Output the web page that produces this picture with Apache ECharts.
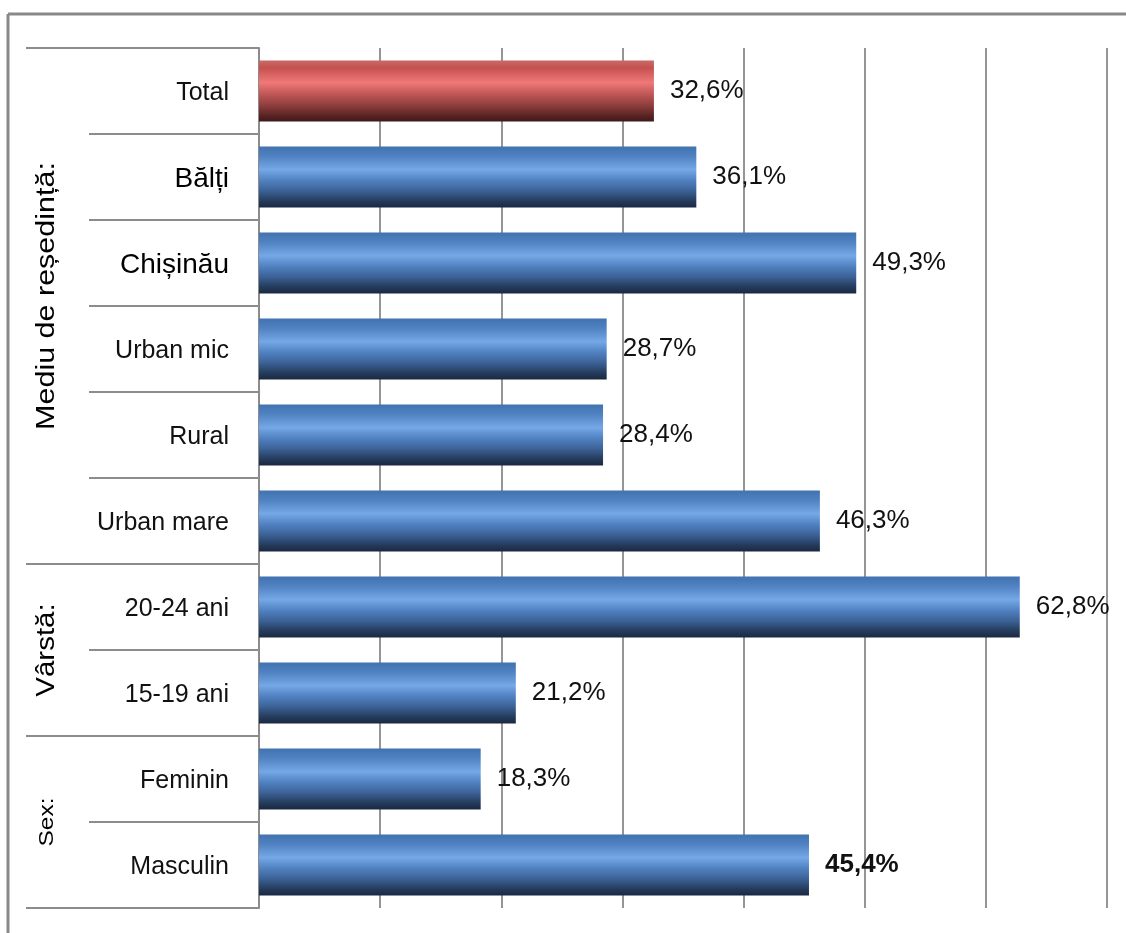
<!DOCTYPE html>
<html><head><meta charset="utf-8">
<script src="https://cdn.jsdelivr.net/npm/echarts@6/dist/echarts.min.js"></script>
<style>html,body{margin:0;padding:0;background:#fff}#c{width:1126px;height:933px}</style>
</head><body><div id="c"></div>
<script>
const categories = ['Total','Bălți','Chișinău','Urban mic','Rural','Urban mare','20-24 ani','15-19 ani','Feminin','Masculin'];
const values = [32.6,36.1,49.3,28.7,28.4,46.3,62.8,21.2,18.3,45.4];
const groupNames = ['Mediu de reședință:','Vârstă:','Sex:'];
const groupStart = [0,6,8];
const groupEnd = [5,7,9];

(function(){
const FONT = '"Liberation Sans", Arial, sans-serif';
const blue = new echarts.graphic.LinearGradient(0,0,0,1,[
  {offset:0,color:'#4272b0'},{offset:0.15,color:'#4f80c0'},{offset:0.38,color:'#75a8e7'},{offset:0.55,color:'#5182c2'},
  {offset:0.72,color:'#3d6398'},{offset:0.88,color:'#263e60'},{offset:1,color:'#1a2840'}]);
const red = new echarts.graphic.LinearGradient(0,0,0,1,[
  {offset:0,color:'#c96a68'},{offset:0.12,color:'#c4514f'},{offset:0.36,color:'#f07878'},{offset:0.55,color:'#bf5756'},
  {offset:0.75,color:'#8a3c3b'},{offset:0.9,color:'#5a2424'},{offset:1,color:'#3e1919'}]);

const chart = echarts.init(document.getElementById('c'), null, {renderer:'canvas'});
const option = {
  animation:false,
  grid:{left:259,right:19,top:48,bottom:25},
  xAxis:{type:'value',min:0,max:70,interval:10,
    axisLine:{show:false},axisTick:{show:false},axisLabel:{show:false},
    splitLine:{show:true,lineStyle:{color:'#959595',width:2}}},
  yAxis:{type:'category',inverse:true,data:categories,
    axisLine:{show:true,lineStyle:{color:'#8c8c8c',width:2}},
    axisTick:{show:false},
    axisLabel:{margin:30,color:'#111',fontFamily:FONT,fontSize:26,
      formatter:(v,i)=> (i===1||i===2) ? '{b|'+v+'}' : '{n|'+v+'}',
      rich:{b:{fontSize:28,fontFamily:FONT,color:'#000',padding:[4,0,0,0]},n:{fontSize:25,fontFamily:FONT,color:'#111',padding:[4,0,0,0]}}}},
  series:[{type:'bar',barWidth:'71%',
    data: values.map((v,i)=>({value:v,itemStyle:{color:i===0?red:blue},
      label:{fontWeight:i===9?'bold':'normal'}})),
    label:{show:true,position:'right',distance:16,color:'#111',fontFamily:FONT,fontSize:26,padding:[4,0,0,0],
      formatter:p=>p.value.toFixed(1).replace('.',',')+'%'}}]
};
chart.setOption(option);

const x0 = chart.convertToPixel({xAxisIndex:0},0);
const c0 = chart.convertToPixel({yAxisIndex:0},categories[0]);
const c1 = chart.convertToPixel({yAxisIndex:0},categories[1]);
const band = c1 - c0;
const topOf = i => chart.convertToPixel({yAxisIndex:0},categories[i]) - band/2;
const botOf = i => chart.convertToPixel({yAxisIndex:0},categories[i]) + band/2;
const lineStyle = {stroke:'#8c8c8c',lineWidth:2};
const g = [];
g.push({type:'line',shape:{x1:8,y1:14,x2:1126,y2:14},style:{stroke:'#898989',lineWidth:3}});
g.push({type:'line',shape:{x1:8,y1:14,x2:8,y2:933},style:{stroke:'#898989',lineWidth:3}});
const longY = new Set();
groupStart.forEach(s=>longY.add(Math.round(topOf(s))));
longY.add(Math.round(botOf(categories.length-1)));
longY.forEach(y=>g.push({type:'line',shape:{x1:26,y1:y,x2:x0,y2:y},style:lineStyle}));
for(let i=1;i<categories.length;i++){
  const y=Math.round(topOf(i));
  if(!longY.has(y)) g.push({type:'line',shape:{x1:89,y1:y,x2:x0,y2:y},style:lineStyle});
}
const gSizes=[25,25,20];
const gStretch=[1.22,1.18,1.22];
const gShift=[-10,0,0];
groupNames.forEach((n,k)=>{
  const cy=(topOf(groupStart[k])+botOf(groupEnd[k]))/2 + gShift[k];
  g.push({type:'text',x:47,y:cy,rotation:Math.PI/2,scaleX:gStretch[k],
    style:{text:n,fontSize:gSizes[k],fontFamily:FONT,fill:'#000',align:'center',verticalAlign:'middle'}});
});
chart.setOption({graphic:g});
})();
</script></body></html>
